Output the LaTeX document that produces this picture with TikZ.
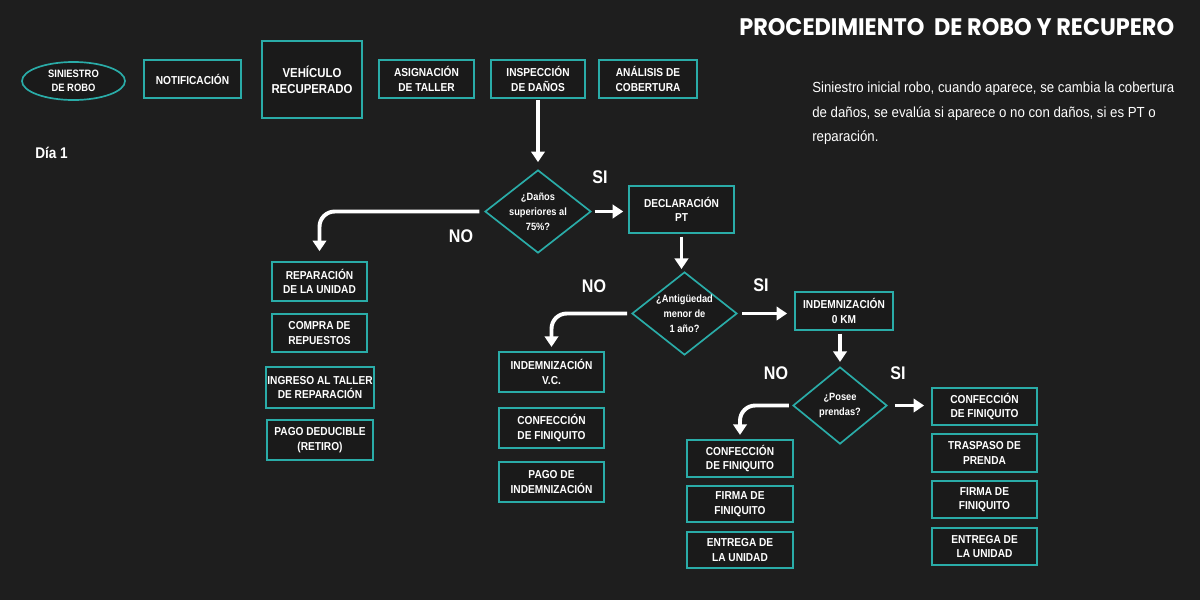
\documentclass[tikz,border=0pt]{standalone}
\usepackage{fontspec}
\setmainfont{Liberation Sans}
\newfontfamily\condfont[FakeStretch=0.88]{Liberation Sans}
\newfontfamily\notefont[FakeStretch=0.905]{Liberation Sans}
\newfontfamily\titlefont[FakeStretch=0.937]{Poppins}
\usetikzlibrary{shapes.geometric,arrows.meta}
\definecolor{bgdark}{RGB}{30,30,30}
\definecolor{boxfill}{RGB}{26,26,26}
\definecolor{tealline}{RGB}{42,172,168}

\begin{document}
\begin{tikzpicture}[x=0.025cm, y=-0.025cm,
    box/.style={draw=tealline, line width=1.2pt, fill=boxfill, text=white, align=center,
        inner sep=1pt, minimum width=2.6cm, minimum height=0.95cm,
        font=\condfont\bfseries\fontsize{8.2}{10.2}\selectfont},
    decision/.style={diamond, draw=tealline, line width=1.2pt, fill=boxfill, text=white,
        align=center, inner sep=0pt, aspect=1.28,
        font=\condfont\bfseries\fontsize{7.5}{10.6}\selectfont},
    flow/.style={draw=white, line width=2.8pt, -{Triangle[width=9.5pt,length=7.5pt]}},
    answer/.style={text=white, font=\condfont\bfseries\fontsize{13}{15}\selectfont}]
    \fill[bgdark] (0,0) rectangle (1200,600);
    \useasboundingbox (0,0) rectangle (1200,600);

    % title and notes
    \node[anchor=west, inner sep=0pt, text=white, font=\titlefont\bfseries\fontsize{17}{20}\selectfont] (title) at (739,27) {PROCEDIMIENTO\ \ DE ROBO Y RECUPERO};
    \node[anchor=north west, inner sep=0pt, align=left, text=white, font=\notefont\fontsize{10.4}{17.4}\selectfont] (desc) at (812,82) {Siniestro inicial robo, cuando aparece, se cambia la cobertura\\de daños, se evalúa si aparece o no con daños, si es PT o\\reparación.};
    \node[anchor=west, inner sep=0pt, text=white, font=\condfont\bfseries\fontsize{11}{13}\selectfont] (dia) at (35,153) {Día 1};

    % top row
    \node[box, ellipse, minimum width=2.575cm, minimum height=0.95cm, font=\condfont\bfseries\fontsize{7.6}{10.2}\selectfont] (siniestro) at (73.5,81) {SINIESTRO\\DE ROBO};
    \node[box, minimum width=2.425cm] (notif) at (192.5,79) {NOTIFICACIÓN};
    \node[box, minimum width=2.5cm, minimum height=1.925cm, font=\condfont\bfseries\fontsize{9.2}{11.6}\selectfont] (vehiculo) at (312,79.5) {VEHÍCULO\\RECUPERADO};
    \node[box, minimum width=2.375cm] (asignacion) at (426.5,79) {ASIGNACIÓN\\DE TALLER};
    \node[box, minimum width=2.35cm] (inspeccion) at (538,79) {INSPECCIÓN\\DE DAÑOS};
    \node[box, minimum width=2.45cm] (analisis) at (648,79) {ANÁLISIS DE\\COBERTURA};

    % decisions
    \node[decision, minimum width=2.65cm, minimum height=2.075cm] (danos) at (538,211.5) {¿Daños\\superiores al\\75\%?};
    \node[box, minimum width=2.625cm, minimum height=1.175cm] (declaracion) at (681.5,209.5) {DECLARACIÓN\\PT};
    \node[decision, minimum width=2.625cm, minimum height=2.075cm] (antiguedad) at (684.5,313.5) {¿Antigüedad\\menor de\\1 año?};
    \node[box, minimum width=2.45cm] (cerokm) at (844,311) {INDEMNIZACIÓN\\0 KM};
    \node[decision, aspect=1.22, minimum width=2.35cm, minimum height=1.925cm] (prendas) at (840,405.5) {¿Posee\\prendas?};

    % reparacion
    \node[box, minimum width=2.375cm, minimum height=0.975cm] (reparacion) at (319.5,281.5) {REPARACIÓN\\DE LA UNIDAD};
    \node[box, minimum width=2.375cm] (compra) at (319.5,333) {COMPRA DE\\REPUESTOS};
    \node[box, minimum width=2.65cm, minimum height=1.025cm] (ingreso) at (320,387.5) {INGRESO AL TALLER\\DE REPARACIÓN};
    \node[box, minimum width=2.65cm, minimum height=1cm] (deducible) at (320,440) {PAGO DEDUCIBLE\\(RETIRO)};

    % indemnizacion v.c.
    \node[box, minimum width=2.625cm, minimum height=1cm] (vc) at (551.5,372) {INDEMNIZACIÓN\\V.C.};
    \node[box, minimum width=2.625cm, minimum height=1cm] (finiquitovc) at (551.5,428) {CONFECCIÓN\\DE FINIQUITO};
    \node[box, minimum width=2.625cm, minimum height=1cm] (pagovc) at (551.5,482) {PAGO DE\\INDEMNIZACIÓN};

    % sin prendas
    \node[box, minimum width=2.65cm, minimum height=0.925cm] (finiquitono) at (740,458.5) {CONFECCIÓN\\DE FINIQUITO};
    \node[box, minimum width=2.65cm, minimum height=0.9cm] (firmano) at (740,504) {FIRMA DE\\FINIQUITO};
    \node[box, minimum width=2.65cm, minimum height=0.9cm] (entregano) at (740,550) {ENTREGA DE\\LA UNIDAD};

    % con prendas
    \node[box, minimum width=2.625cm, minimum height=0.925cm] (finiquitosi) at (984.5,406.5) {CONFECCIÓN\\DE FINIQUITO};
    \node[box, minimum width=2.625cm, minimum height=0.95cm] (traspaso) at (984.5,453) {TRASPASO DE\\PRENDA};
    \node[box, minimum width=2.625cm, minimum height=0.925cm] (firmasi) at (984.5,499.5) {FIRMA DE\\FINIQUITO};
    \node[box, minimum width=2.625cm, minimum height=0.925cm] (entregasi) at (984.5,546.5) {ENTREGA DE\\LA UNIDAD};

    % answers
    \node[answer] (si1) at (600,177) {SI};
    \node[answer] (no1) at (461,236) {NO};
    \node[answer] (no2) at (594,286) {NO};
    \node[answer] (si2) at (761,285) {SI};
    \node[answer] (no3) at (776,373) {NO};
    \node[answer] (si3) at (898,373) {SI};

    % arrows
    \draw[flow, shorten <=1pt, shorten >=5pt] (inspeccion) -- (danos);
    \draw[flow, shorten <=2pt, shorten >=3.5pt] (danos.east) -- (danos.east -| declaracion.west);
    \draw[flow, rounded corners=0.38cm, shorten <=0.12cm, shorten >=0.25cm] (danos.west) -| (reparacion.north);
    \draw[flow, shorten <=2pt, shorten >=1.5pt] (declaracion.south) -- (declaracion.south |- antiguedad.north);
    \draw[flow, shorten <=3pt, shorten >=5pt] (antiguedad.east) -- (antiguedad.east -| cerokm.west);
    \draw[flow, rounded corners=0.38cm, shorten <=0.1cm, shorten >=3pt] (antiguedad.west) -| (vc.north);
    \draw[flow, shorten <=2pt, shorten >=3pt] (cerokm.south -| prendas.north) -- (prendas.north);
    \draw[flow, shorten <=5pt, shorten >=5pt] (prendas.east) -- (prendas.east -| finiquitosi.west);
    \draw[flow, rounded corners=0.38cm, shorten <=0.08cm, shorten >=3pt] (prendas.west) -| (finiquitono.north);
\end{tikzpicture}
\end{document}
